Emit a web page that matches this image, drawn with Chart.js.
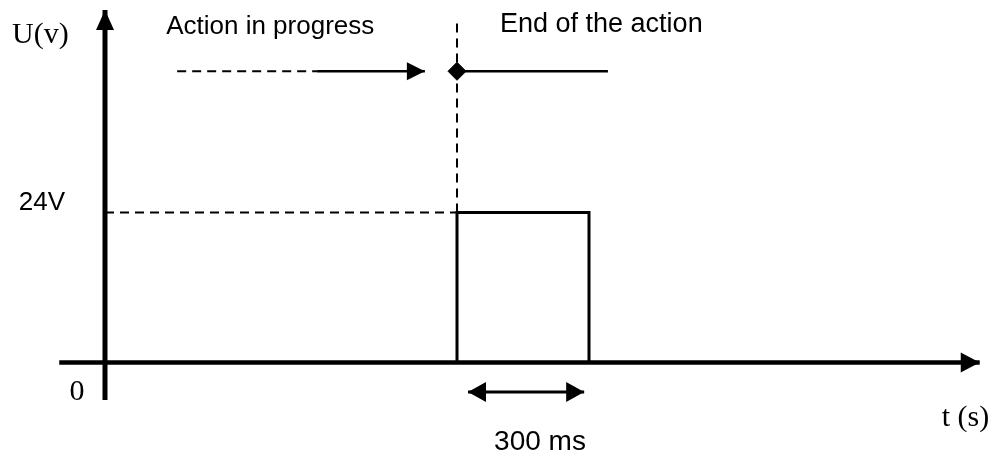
<!DOCTYPE html>
<html>
<head>
<meta charset="utf-8">
<title>Pulse at end of action</title>
<script src="https://cdn.jsdelivr.net/npm/chart.js@4/dist/chart.umd.min.js"></script>
<style>
  html, body { margin: 0; padding: 0; background: #fff; }
  #wrap { width: 997px; height: 456px; position: relative; }
</style>
</head>
<body>
<div id="wrap"><canvas id="pulseChart"></canvas></div>
<script>
// time in ms, voltage in V
const pulseTime = [800, 800, 1100, 1100];
const pulseVolt = [0, 24, 24, 0];
const highLevel = 24;
const pulseStart = 800;
const pulseEnd = 1100;

// "action" timeline drawn above the signal
const actionLevel = 46.6;
const actionDashed = [164, 482];
const actionArrow = [482, 727];
const actionDone = [800, 1143];

// duration marker under the axis
const durationSpan = [825, 1089];
const durationLevel = -4.7;

// axis extents
const xAxisSpan = [-104, 1988];
const yAxisSpan = [-6, 56.4];
const markerTop = 54.3;

// texts
const yTitle = 'U(v)';
const xTitle = 't (s)';
const originLabel = '0';
const levelLabel = '24V';
const durationLabel = '300 ms';
const startLabel = 'Action in progress';
const endLabel = 'End of the action';

function seg(xs, ys) {
    return xs.map((v, i) => ({ x: v, y: ys[i] }));
}

function lineSet(data, width, extra) {
    return Object.assign({
        data: data,
        showLine: true,
        borderColor: '#000',
        backgroundColor: '#000',
        borderWidth: width,
        pointRadius: 0,
        tension: 0,
        borderJoinStyle: 'miter',
        clip: false
    }, extra || {});
}

const datasets = [
    lineSet(seg(xAxisSpan, [0, 0]), 4.5, { arrowEnd: [19, 10] }),
    lineSet(seg([0, 0], yAxisSpan), 5, { arrowEnd: [20, 9] }),
    lineSet(seg(pulseTime, pulseVolt), 3),
    lineSet(seg([0, pulseStart], [highLevel, highLevel]), 2, { borderDash: [9, 6] }),
    lineSet(seg([pulseStart, pulseStart], [highLevel, markerTop]), 2, { borderDash: [9, 6] }),
    lineSet(seg(actionDashed, [actionLevel, actionLevel]), 2, { borderDash: [9, 6] }),
    lineSet(seg(actionArrow, [actionLevel, actionLevel]), 2.5, { arrowEnd: [18, 9] }),
    lineSet(seg(actionDone, [actionLevel, actionLevel]), 2.5, {
        pointStyle: 'rectRot',
        pointRadius: [9, 0],
        pointBorderWidth: 1
    }),
    lineSet(seg(durationSpan, [durationLevel, durationLevel]), 3, { arrowEnd: [18, 10], arrowStart: [18, 10] })
];

// filled arrow heads at dataset ends
const arrowHeads = {
    id: 'arrowHeads',
    afterDatasetsDraw(chart) {
        const ctx = chart.ctx;
        chart.data.datasets.forEach((ds, i) => {
            const pts = chart.getDatasetMeta(i).data;
            if (ds.arrowEnd) head(ctx, pts[pts.length - 1], pts[pts.length - 2], ds.arrowEnd);
            if (ds.arrowStart) head(ctx, pts[0], pts[1], ds.arrowStart);
        });
    }
};

function head(ctx, tip, from, size) {
    const ang = Math.atan2(tip.y - from.y, tip.x - from.x);
    const len = size[0], half = size[1];
    ctx.save();
    ctx.translate(tip.x, tip.y);
    ctx.rotate(ang);
    ctx.beginPath();
    ctx.moveTo(0, 0);
    ctx.lineTo(-len, -half);
    ctx.lineTo(-len, half);
    ctx.closePath();
    ctx.fillStyle = '#000';
    ctx.fill();
    ctx.restore();
}

// labels placed relative to the scales
const textLayer = {
    id: 'textLayer',
    afterDatasetsDraw(chart) {
        const ctx = chart.ctx;
        const xs = chart.scales.x, ys = chart.scales.y;
        const x0 = xs.getPixelForValue(0), y0 = ys.getPixelForValue(0);
        const serif = '"Liberation Serif", "Times New Roman", serif';
        const sans = '"Liberation Sans", Arial, sans-serif';
        ctx.save();
        ctx.fillStyle = '#000';
        ctx.textBaseline = 'alphabetic';

        ctx.font = '30px ' + serif;
        ctx.textAlign = 'left';
        ctx.fillText(yTitle, x0 - 93, ys.getPixelForValue(yAxisSpan[1]) + 33);
        ctx.fillText(xTitle, xs.getPixelForValue(xAxisSpan[1]) - 38, y0 + 63);
        ctx.textAlign = 'center';
        ctx.fillText(originLabel, x0 - 28, y0 + 37);

        ctx.font = '26px ' + sans;
        ctx.textAlign = 'right';
        ctx.fillText(levelLabel, x0 - 40, ys.getPixelForValue(highLevel) - 3);
        ctx.textAlign = 'left';
        ctx.fillText(startLabel, xs.getPixelForValue(actionDashed[0]) - 11, ys.getPixelForValue(actionLevel) - 37);
        ctx.font = '27px ' + sans;
        ctx.fillText(endLabel, xs.getPixelForValue(pulseStart) + 43, ys.getPixelForValue(actionLevel) - 39);

        ctx.font = '28px ' + sans;
        ctx.textAlign = 'center';
        const mid = (xs.getPixelForValue(pulseStart) + xs.getPixelForValue(pulseEnd)) / 2;
        ctx.fillText(durationLabel, mid + 17, ys.getPixelForValue(durationLevel) + 58);
        ctx.restore();
    }
};

new Chart(document.getElementById('pulseChart'), {
    type: 'scatter',
    data: { datasets: datasets },
    options: {
        responsive: true,
        maintainAspectRatio: false,
        animation: false,
        layout: { padding: 0, autoPadding: false },
        plugins: {
            legend: { display: false },
            tooltip: { enabled: false }
        },
        scales: {
            x: { type: 'linear', display: false, min: -238.64, max: 2027.27 },
            y: { type: 'linear', display: false, min: -14.96, max: 58 }
        }
    },
    plugins: [arrowHeads, textLayer]
});
</script>
</body>
</html>
